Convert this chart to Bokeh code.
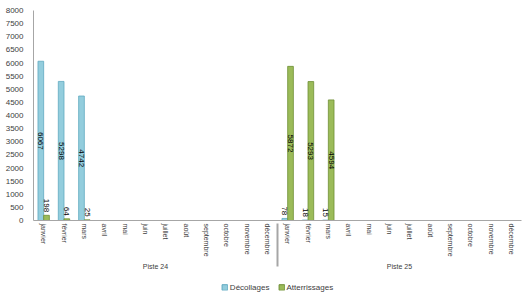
import math
from bokeh.plotting import figure
from bokeh.layouts import column
from bokeh.models import FactorRange, ColumnDataSource, Legend, LegendItem, SingleIntervalTicker
from bokeh.transform import dodge
from bokeh.core.properties import value
from bokeh.embed import file_html
from bokeh.resources import INLINE

pistes = ["Piste 24", "Piste 25"]
months = ["janvier", "février", "mars", "avril", "mai", "juin", "juillet",
          "août", "septembre", "octobre", "novembre", "décembre"]
series_names = ["Décollages", "Atterrissages"]
decollages_24 = [6067, 5298, 4742]
atterrissages_24 = [198, 64, 25]
decollages_25 = [78, 18, 15]
atterrissages_25 = [5872, 5293, 4594]

FONT = "Liberation Sans"
BLUE, BLUE_EDGE = "#93CDDD", "#5FA9C0"
GREEN, GREEN_EDGE = "#9BBB59", "#6E8F35"

factors = [(pi, m) for pi in pistes for m in months]

def series(vals24, vals25):
    xs, ys = [], []
    for pi, vals in (("Piste 24", vals24), ("Piste 25", vals25)):
        for m, v in zip(months, vals):
            xs.append((pi, m))
            ys.append(v)
    return xs, ys

xd, yd = series(decollages_24, decollages_25)
xa, ya = series(atterrissages_24, atterrissages_25)

def label_cols(ys):
    ly, la, txt = [], [], []
    for v in ys:
        txt.append(str(v))
        if v > 1000:
            ly.append(v / 2)
            la.append("center")
        else:
            ly.append(v + 120)
            la.append("right")
    return ly, la, txt

ldy, lda, ldt = label_cols(yd)
lay, laa, lat = label_cols(ya)

src_d = ColumnDataSource(dict(x=xd, y=yd, ly=ldy, la=lda, t=ldt))
src_a = ColumnDataSource(dict(x=xa, y=ya, ly=lay, la=laa, t=lat))

p = figure(output_backend="svg", toolbar_location=None,
           x_range=FactorRange(*factors, group_padding=0, factor_padding=0, range_padding=0),
           y_range=(0, 8000))
p.frame_width = 488
p.frame_height = 210
p.min_border_left = 33
p.min_border_right = 9
p.min_border_top = 10
p.min_border_bottom = 0
p.outline_line_color = None
p.background_fill_color = "white"
p.border_fill_color = "white"
p.xgrid.grid_line_color = None
p.ygrid.grid_line_color = None

BAR_W = 0.28
OFF = 0.14
p.vbar(x=dodge("x", -OFF, range=p.x_range), top="y", width=BAR_W, source=src_d,
       fill_color=BLUE, line_color=BLUE_EDGE, line_width=0.8)
p.vbar(x=dodge("x", OFF, range=p.x_range), top="y", width=BAR_W, source=src_a,
       fill_color=GREEN, line_color=GREEN_EDGE, line_width=0.8)

for src, off in ((src_d, -OFF), (src_a, OFF)):
    p.text(x=dodge("x", off, range=p.x_range), y="ly", text="t", source=src,
           angle=-math.pi / 2, text_align="la", text_baseline="middle",
           text_font=value(FONT), text_font_size="8px", text_color="#000000")

yax = p.yaxis[0]
yax.ticker = SingleIntervalTicker(interval=500)
yax.axis_line_color = "#A6A6A6"
yax.major_tick_line_color = None
yax.minor_tick_line_color = None
yax.major_label_text_font = FONT
yax.major_label_text_font_size = "8px"
yax.major_label_text_color = "#404040"
yax.major_label_standoff = 4

xax = p.xaxis[0]
xax.axis_line_color = "#A6A6A6"
xax.major_tick_line_color = None
xax.minor_tick_line_color = None
xax.major_tick_out = 0
xax.major_label_standoff = 3
xax.major_label_orientation = "vertical"
xax.major_label_text_font = FONT
xax.major_label_text_font_size = "7px"
xax.major_label_text_color = "#404040"
xax.group_text_font = FONT
xax.group_text_font_size = "7px"
xax.group_text_font_style = "normal"
xax.group_text_color = "#404040"
xax.group_label_orientation = "horizontal"
xax.separator_line_color = "#A6A6A6"

# legend strip below the chart (its swatch renderers sit outside the visible range)
lf = figure(width=530, height=30, output_backend="svg", toolbar_location=None,
            x_range=(0, 1), y_range=(0, 1), x_axis_location=None, y_axis_location=None)
lf.min_border = 0
lf.outline_line_color = None
lf.xgrid.grid_line_color = None
lf.ygrid.grid_line_color = None
swatch = ColumnDataSource(dict(x=[-1], top=[0]))
r1 = lf.vbar(x="x", top="top", width=0.1, source=swatch, fill_color=BLUE, line_color=BLUE_EDGE)
r2 = lf.vbar(x="x", top="top", width=0.1, source=swatch, fill_color=GREEN, line_color=GREEN_EDGE)
legend = Legend(items=[LegendItem(label=series_names[0], renderers=[r1]),
                       LegendItem(label=series_names[1], renderers=[r2])],
                orientation="horizontal", location="center",
                label_text_font=FONT, label_text_font_size="8px",
                label_text_color="#404040", glyph_width=7, glyph_height=7,
                label_standoff=2, spacing=8, padding=1, margin=0,
                label_height=8, border_line_color=None, background_fill_alpha=0)
lf.add_layout(legend, "center")

layout = column(p, lf, spacing=0)
open("out.html", "w").write(file_html(layout, INLINE))
